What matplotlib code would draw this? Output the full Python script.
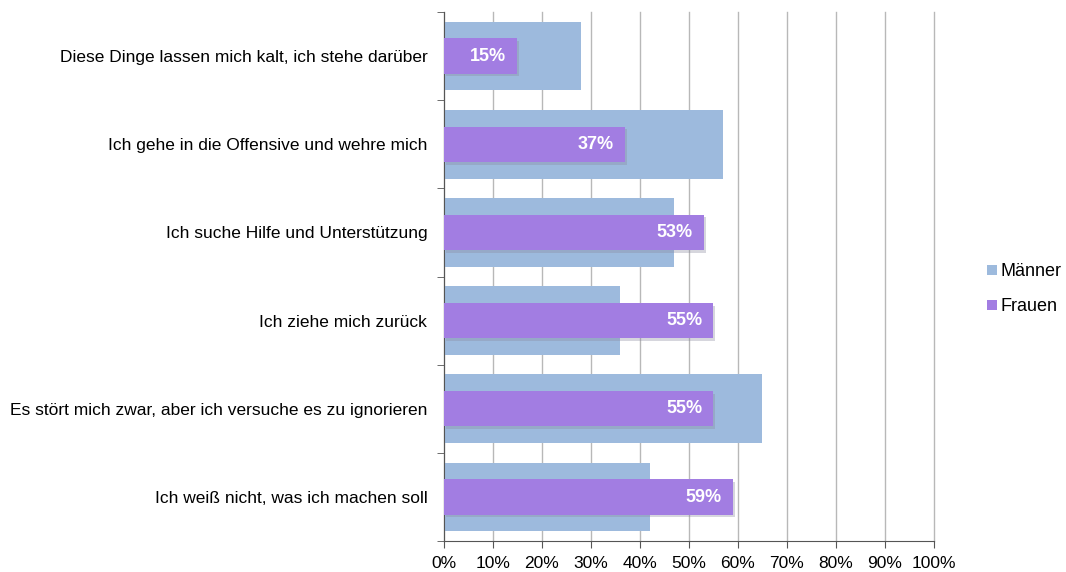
import matplotlib.pyplot as plt
import numpy as np

categories = [
    "Diese Dinge lassen mich kalt, ich stehe darüber",
    "Ich gehe in die Offensive und wehre mich",
    "Ich suche Hilfe und Unterstützung",
    "Ich ziehe mich zurück",
    "Es stört mich zwar, aber ich versuche es zu ignorieren",
    "Ich weiß nicht, was ich machen soll",
]
maenner = [28, 57, 47, 36, 65, 42]
frauen = [15, 37, 53, 55, 55, 59]

plt.rcParams["font.family"] = ["Liberation Sans", "DejaVu Sans"]

fig = plt.figure(figsize=(10.66, 5.72), dpi=100)
ax = fig.add_axes([0.4165, 0.054, 0.4595, 0.925])

y = np.arange(len(categories))
blue = "#9dbadd"
purple = "#a27de2"

ax.barh(y, maenner, height=0.78, color=blue, label="Männer", zorder=2)
# soft shadow under the purple bars
ax.barh(y + 0.03, frauen, height=0.4, left=0.4, color="#8a8aa0", alpha=0.35, zorder=2.5)
ax.barh(y, frauen, height=0.4, color=purple, label="Frauen", zorder=3)

for yi, v in zip(y, frauen):
    ax.annotate(f"{v}%", (v, yi), xytext=(-8, 0), textcoords="offset points",
                ha="right", va="center", color="white", fontsize=13,
                fontweight="bold", zorder=4)

ax.set_xlim(0, 100)
ax.set_ylim(len(categories) - 0.5, -0.5)
ax.set_xticks(np.arange(0, 101, 10))
ax.set_xticklabels([f"{t}%" for t in range(0, 101, 10)], fontsize=12.5)
ax.set_yticks(y)
ax.set_yticklabels(categories, fontsize=12.5)
ax.tick_params(axis="y", length=0, pad=12)
ax.set_yticks(np.arange(-0.5, len(categories), 1), minor=True)
ax.tick_params(axis="y", which="minor", length=5, color="#555555")
ax.tick_params(axis="x", length=5, color="#555555", pad=6)

ax.grid(axis="x", color="#b8b8b8", linewidth=1, zorder=0)
for line in ax.get_xgridlines():
    line.set_clip_on(False)
for s in ["top", "right"]:
    ax.spines[s].set_visible(False)
ax.spines["left"].set_color("#555555")
ax.spines["bottom"].set_color("#555555")

leg = fig.legend(loc="center left", bbox_to_anchor=(0.911, 0.495), frameon=False,
                 fontsize=13, handlelength=0.5, handleheight=0.5,
                 handletextpad=0.25, labelspacing=1.0)
for h in leg.legend_handles:
    h.set_height(7)
    h.set_width(7)

fig.savefig("out.png", dpi=100)
